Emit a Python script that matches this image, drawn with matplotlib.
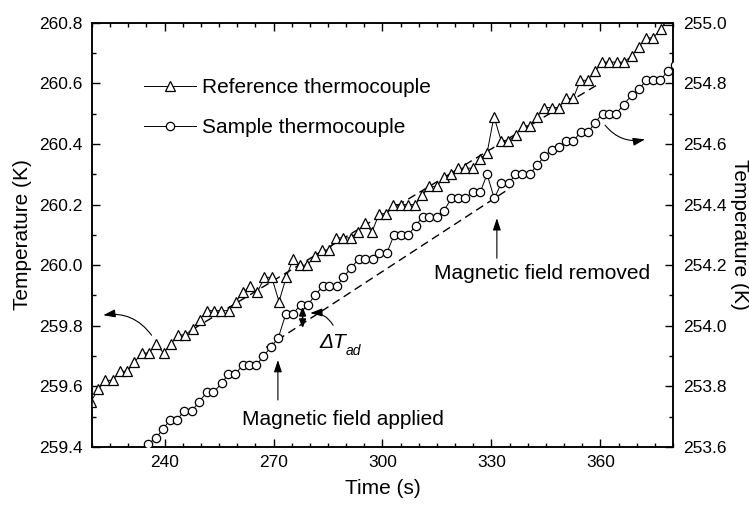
import matplotlib
matplotlib.use("Agg")
import matplotlib.pyplot as plt
from matplotlib.ticker import MultipleLocator, FormatStrFormatter

plt.rcParams['font.family'] = ['Liberation Sans', 'DejaVu Sans']

# reference thermocouple (left axis)
ref_t = [219.7, 221.7, 223.7, 225.7, 227.7, 229.7, 231.7, 233.7, 235.7, 237.7,
         239.7, 241.7, 243.7, 245.7, 247.7, 249.7, 251.6, 253.6, 255.6, 257.6,
         259.6, 261.6, 263.5, 265.5, 267.5, 269.5, 271.5, 273.5, 275.4, 277.3,
         279.3, 281.3, 283.3, 285.3, 287.2, 289.2, 291.2, 293.2, 295.1, 297.1,
         299.1, 301.1, 303.0, 305.0, 307.0, 309.0, 311.0, 312.9, 314.9, 316.9,
         318.9, 320.9, 322.8, 324.8, 326.8, 328.8, 330.7, 332.7, 334.7, 336.7,
         338.7, 340.6, 342.6, 344.6, 346.6, 348.6, 350.5, 352.5, 354.5, 356.5,
         358.5, 360.5, 362.5, 364.5, 366.4, 368.6, 370.6, 372.6, 374.6, 376.6,
         378.6]
ref_T = [259.55, 259.59, 259.62, 259.62, 259.65, 259.65, 259.68, 259.71, 259.71, 259.74,
         259.71, 259.74, 259.77, 259.77, 259.79, 259.82, 259.85, 259.85, 259.85, 259.85,
         259.88, 259.91, 259.93, 259.91, 259.96, 259.96, 259.88, 259.96, 260.02, 260.00,
         260.00, 260.03, 260.05, 260.05, 260.09, 260.09, 260.09, 260.11, 260.14, 260.11,
         260.17, 260.17, 260.20, 260.20, 260.20, 260.20, 260.23, 260.26, 260.26, 260.29,
         260.30, 260.32, 260.32, 260.32, 260.35, 260.37, 260.49, 260.41, 260.41, 260.43,
         260.46, 260.46, 260.49, 260.52, 260.52, 260.52, 260.55, 260.55, 260.61, 260.61,
         260.64, 260.67, 260.67, 260.67, 260.67, 260.69, 260.72, 260.75, 260.75, 260.78,
         260.81]

# sample thermocouple (right axis)
smp_t = [235.5, 237.6, 239.6, 241.5, 243.5, 245.4, 247.6, 249.5, 251.6, 253.4,
         255.7, 257.5, 259.4, 261.5, 263.3, 265.3, 267.2, 269.3, 271.3, 273.4,
         275.4, 277.5, 279.5, 281.4, 283.5, 285.3, 287.4, 289.2, 291.3, 293.4,
         295.2, 297.3, 299.1, 301.2, 303.2, 305.0, 307.1, 309.1, 311.1, 312.9,
         314.9, 316.9, 319.0, 320.9, 322.7, 324.8, 326.9, 328.8, 330.8, 332.7,
         334.8, 336.6, 338.5, 340.5, 342.6, 344.6, 346.6, 348.6, 350.6, 352.6,
         354.6, 356.7, 358.5, 360.6, 362.5, 364.4, 366.4, 368.6, 370.7, 372.5,
         374.4, 376.5, 378.5, 380.5]
smp_T = [253.61, 253.63, 253.66, 253.69, 253.69, 253.72, 253.72, 253.75, 253.78, 253.78,
         253.81, 253.84, 253.84, 253.87, 253.87, 253.87, 253.90, 253.93, 253.96, 254.04,
         254.04, 254.07, 254.07, 254.10, 254.13, 254.13, 254.13, 254.16, 254.19, 254.22,
         254.22, 254.22, 254.24, 254.24, 254.30, 254.30, 254.30, 254.33, 254.36, 254.36,
         254.36, 254.38, 254.42, 254.42, 254.42, 254.44, 254.44, 254.50, 254.42, 254.47,
         254.47, 254.50, 254.50, 254.50, 254.53, 254.56, 254.58, 254.59, 254.61, 254.61,
         254.64, 254.64, 254.67, 254.70, 254.70, 254.70, 254.73, 254.76, 254.78, 254.81,
         254.81, 254.81, 254.84, 254.86]

# dashed baselines
fit_ref_t = [248, 359]
fit_ref_T = [259.79, 260.594]
fit_smp_t = [268, 335]
fit_smp_T = [253.929, 254.453]

fig = plt.figure(figsize=(7.49, 5.07), dpi=100)
ax = fig.add_axes([0.1228, 0.1183, 0.7757, 0.8369])
ax2 = ax.twinx()

l1, = ax.plot(ref_t, ref_T, color='k', lw=0.7, marker='^', ms=7.5, mfc='white',
              mec='k', mew=0.9, zorder=3)
ax.plot(fit_ref_t, fit_ref_T, color='k', lw=1.0, dashes=(6, 3.5), zorder=2)
l2, = ax2.plot(smp_t, smp_T, color='k', lw=0.7, marker='o', ms=6, mfc='white',
               mec='k', mew=0.9, zorder=3)
ax2.plot(fit_smp_t, fit_smp_T, color='k', lw=1.0, dashes=(6, 3.5), zorder=2)

ax.set_xlim(220, 380)
ax.set_ylim(259.4, 260.8)
ax2.set_ylim(253.6, 255.0)

ax.xaxis.set_major_locator(MultipleLocator(30))
ax.xaxis.set_minor_locator(MultipleLocator(5))
for a in (ax, ax2):
    a.yaxis.set_major_locator(MultipleLocator(0.2))
    a.yaxis.set_minor_locator(MultipleLocator(0.1))
    a.yaxis.set_major_formatter(FormatStrFormatter('%.1f'))
    a.tick_params(which='major', direction='in', length=6, width=1, labelsize=12.5, pad=7)
    a.tick_params(which='minor', direction='in', length=3, width=1)
    for s in a.spines.values():
        s.set_linewidth(1.1)
ax.tick_params(which='both', top=True, right=False)
ax.tick_params(axis='x', pad=6)

ax.set_xlabel('Time (s)', fontsize=15, labelpad=6)
ax.set_ylabel('Temperature (K)', fontsize=15, labelpad=5)
ax2.set_ylabel('Temperature (K)', fontsize=15, rotation=270, va='bottom', labelpad=3)

ax2.legend(handles=[l1, l2], labels=['Reference thermocouple', 'Sample thermocouple'],
           loc='upper left', bbox_to_anchor=(0.0895, 0.870), frameon=False, fontsize=15,
           handlelength=2.5, handletextpad=0.3, labelspacing=1.03, borderpad=0,
           borderaxespad=0)

arrow = dict(arrowstyle='-|>,head_length=0.6,head_width=0.2', color='k', lw=0.8,
             mutation_scale=12, shrinkA=0, shrinkB=0)

# curved arrows pointing to the axes
ax.annotate('', xy=(223.1, 259.835), xytext=(236.4, 259.769),
            arrowprops=dict(arrow, connectionstyle='arc3,rad=0.3'))
ax.annotate('', xy=(372.3, 260.415), xytext=(361.3, 260.462),
            arrowprops=dict(arrow, connectionstyle='arc3,rad=0.3'))

# field applied / removed
ax2.annotate('', xy=(271.2, 253.887), xytext=(271.2, 253.755), arrowprops=arrow)
ax2.annotate('', xy=(331.5, 254.355), xytext=(331.5, 254.223), arrowprops=arrow)
ax.text(289.1, 259.492, 'Magnetic field applied', fontsize=15, ha='center', va='center')
ax.text(343.9, 259.974, 'Magnetic field removed', fontsize=15, ha='center', va='center')

# delta T_ad
ax2.annotate('', xy=(278.0, 254.063), xytext=(278.0, 253.992),
             arrowprops=dict(arrowstyle='<|-|>,head_length=0.5,head_width=0.2', color='k',
                             lw=1.2, mutation_scale=10, shrinkA=0, shrinkB=0))
ax.annotate('', xy=(280.1, 259.842), xytext=(286.4, 259.802),
            arrowprops=dict(arrow, connectionstyle='arc3,rad=0.3'))
ax.text(282.6, 259.745, 'ΔT', fontsize=15, style='italic', ha='left', va='center')
ax.text(290.0, 259.718, 'ad', fontsize=10, style='italic', ha='left', va='center')

fig.savefig('out.png', dpi=100)
